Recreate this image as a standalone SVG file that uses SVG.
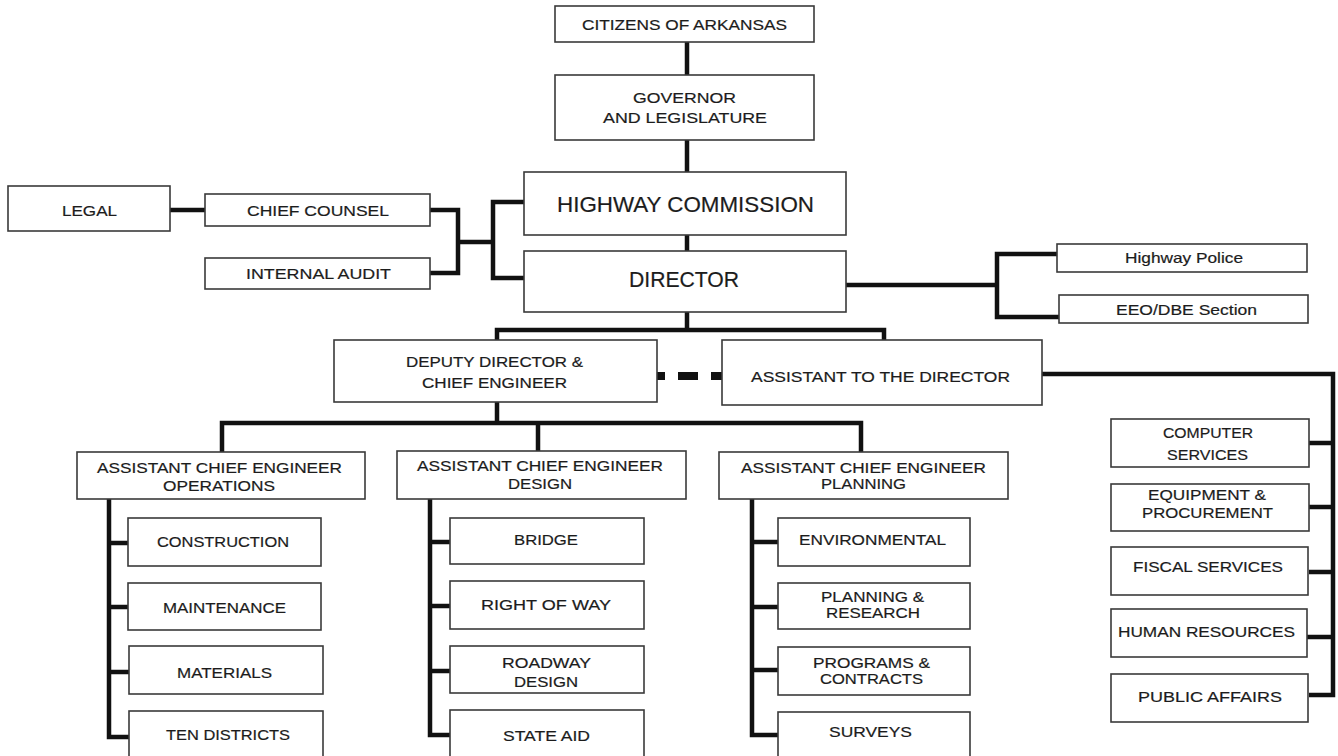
<svg xmlns="http://www.w3.org/2000/svg" width="1338" height="756" viewBox="0 0 1338 756">
<style>
.box{fill:#fff;stroke:#3a3a3a;stroke-width:1.6}
.t{font-family:"Liberation Sans",Arial,sans-serif;font-size:15.5px;fill:#1c1c1c;stroke:#1c1c1c;stroke-width:0.2;text-anchor:middle}
.big{font-size:22px}
.sm{font-size:15px}
.c{fill:none;stroke:#111;stroke-width:4.5;stroke-linejoin:miter;stroke-linecap:butt}
</style>
<rect width="1338" height="756" fill="#fff"/>
<g id="connectors">
<path class="c" d="M687 42V75M687 140V172M687 235V251"/>
<path class="c" d="M170 210H205M430 210H458V273H430M458 242H493M524 202H493V278H524"/>
<path class="c" d="M846 285H997M1057 254H997V317H1059"/>
<path class="c" d="M687 312V330M497 341V330H884V341"/>
<path class="c" d="M1042 374H1333V695H1309M1309 443H1333M1309 507H1333M1309 572H1333M1307 637H1333"/>
<path class="c" d="M497 402V423M222 452V423H861V452M538 423V451"/>
<path class="c" d="M109 499V737H130M109 543H128M109 607H128M109 672H130"/>
<path class="c" d="M430 499V735H450M430 542H450M430 606H450M430 671H450"/>
<path class="c" d="M752 499V735H778M752 542H778M752 607H778M752 670H778"/>
<path d="M657 376H665M678 376H698M711 376H722" fill="none" stroke="#111" stroke-width="8"/>
</g>
<g id="citizens"><rect class="box" x="555" y="6" width="259" height="36"/><text class="t" x="684.5" y="30" textLength="205" lengthAdjust="spacingAndGlyphs">CITIZENS OF ARKANSAS</text></g>
<g id="governor"><rect class="box" x="555" y="75" width="259" height="65"/><text class="t" x="684.5" y="103" textLength="103" lengthAdjust="spacingAndGlyphs">GOVERNOR</text><text class="t" x="685" y="123" textLength="164" lengthAdjust="spacingAndGlyphs">AND LEGISLATURE</text></g>
<g id="commission"><rect class="box" x="524" y="172" width="322" height="63"/><text class="t big" x="685.5" y="212" textLength="257" lengthAdjust="spacingAndGlyphs">HIGHWAY COMMISSION</text></g>
<g id="director"><rect class="box" x="524" y="251" width="322" height="61"/><text class="t big" x="684" y="287" textLength="110" lengthAdjust="spacingAndGlyphs">DIRECTOR</text></g>
<g id="legal"><rect class="box" x="8" y="186" width="162" height="45"/><text class="t" x="89.5" y="216" textLength="55" lengthAdjust="spacingAndGlyphs">LEGAL</text></g>
<g id="chief-counsel"><rect class="box" x="205" y="194" width="225" height="32"/><text class="t" x="318" y="216" textLength="142" lengthAdjust="spacingAndGlyphs">CHIEF COUNSEL</text></g>
<g id="internal-audit"><rect class="box" x="205" y="258" width="225" height="31"/><text class="t" x="318.5" y="279" textLength="145" lengthAdjust="spacingAndGlyphs">INTERNAL AUDIT</text></g>
<g id="highway-police"><rect class="box" x="1057" y="244" width="250" height="28"/><text class="t sm" x="1184" y="263" textLength="118" lengthAdjust="spacingAndGlyphs">Highway Police</text></g>
<g id="eeo"><rect class="box" x="1059" y="295" width="249" height="28"/><text class="t sm" x="1186.5" y="315" textLength="141" lengthAdjust="spacingAndGlyphs">EEO/DBE Section</text></g>
<g id="deputy"><rect class="box" x="334" y="340" width="323" height="62"/><text class="t" x="494.5" y="367" textLength="177" lengthAdjust="spacingAndGlyphs">DEPUTY DIRECTOR &amp;</text><text class="t" x="494.5" y="388" textLength="145" lengthAdjust="spacingAndGlyphs">CHIEF ENGINEER</text></g>
<g id="assistant-director"><rect class="box" x="722" y="340" width="320" height="65"/><text class="t" x="880.5" y="382" textLength="259" lengthAdjust="spacingAndGlyphs">ASSISTANT TO THE DIRECTOR</text></g>
<g id="ace-operations"><rect class="box" x="77" y="452" width="288" height="47"/><text class="t" x="219.5" y="473" textLength="245" lengthAdjust="spacingAndGlyphs">ASSISTANT CHIEF ENGINEER</text><text class="t" x="219" y="491" textLength="112" lengthAdjust="spacingAndGlyphs">OPERATIONS</text></g>
<g id="ace-design"><rect class="box" x="397" y="451" width="289" height="48"/><text class="t" x="540" y="471" textLength="246" lengthAdjust="spacingAndGlyphs">ASSISTANT CHIEF ENGINEER</text><text class="t" x="540" y="489" textLength="64" lengthAdjust="spacingAndGlyphs">DESIGN</text></g>
<g id="ace-planning"><rect class="box" x="719" y="452" width="289" height="47"/><text class="t" x="863.5" y="473" textLength="245" lengthAdjust="spacingAndGlyphs">ASSISTANT CHIEF ENGINEER</text><text class="t" x="863.5" y="489" textLength="85" lengthAdjust="spacingAndGlyphs">PLANNING</text></g>
<g id="construction"><rect class="box" x="128" y="518" width="193" height="48"/><text class="t" x="223" y="547" textLength="132" lengthAdjust="spacingAndGlyphs">CONSTRUCTION</text></g>
<g id="maintenance"><rect class="box" x="128" y="583" width="193" height="47"/><text class="t" x="224.5" y="613" textLength="123" lengthAdjust="spacingAndGlyphs">MAINTENANCE</text></g>
<g id="materials"><rect class="box" x="129" y="646" width="194" height="48"/><text class="t" x="224.5" y="678" textLength="95" lengthAdjust="spacingAndGlyphs">MATERIALS</text></g>
<g id="ten-districts"><rect class="box" x="129" y="711" width="194" height="60"/><text class="t" x="228" y="740" textLength="124" lengthAdjust="spacingAndGlyphs">TEN DISTRICTS</text></g>
<g id="bridge"><rect class="box" x="450" y="518" width="194" height="46"/><text class="t" x="546" y="545" textLength="64" lengthAdjust="spacingAndGlyphs">BRIDGE</text></g>
<g id="right-of-way"><rect class="box" x="450" y="581" width="194" height="48"/><text class="t" x="546" y="610" textLength="130" lengthAdjust="spacingAndGlyphs">RIGHT OF WAY</text></g>
<g id="roadway-design"><rect class="box" x="450" y="646" width="194" height="47"/><text class="t" x="546.5" y="668" textLength="89" lengthAdjust="spacingAndGlyphs">ROADWAY</text><text class="t" x="546" y="687" textLength="64" lengthAdjust="spacingAndGlyphs">DESIGN</text></g>
<g id="state-aid"><rect class="box" x="450" y="710" width="194" height="60"/><text class="t" x="546.5" y="741" textLength="87" lengthAdjust="spacingAndGlyphs">STATE AID</text></g>
<g id="environmental"><rect class="box" x="778" y="518" width="192" height="48"/><text class="t" x="872.5" y="545" textLength="147" lengthAdjust="spacingAndGlyphs">ENVIRONMENTAL</text></g>
<g id="planning-research"><rect class="box" x="778" y="583" width="192" height="46"/><text class="t" x="872.5" y="602" textLength="103" lengthAdjust="spacingAndGlyphs">PLANNING &amp;</text><text class="t" x="873" y="618" textLength="94" lengthAdjust="spacingAndGlyphs">RESEARCH</text></g>
<g id="programs-contracts"><rect class="box" x="778" y="647" width="192" height="48"/><text class="t" x="871.5" y="668" textLength="117" lengthAdjust="spacingAndGlyphs">PROGRAMS &amp;</text><text class="t" x="871.5" y="684" textLength="103" lengthAdjust="spacingAndGlyphs">CONTRACTS</text></g>
<g id="surveys"><rect class="box" x="778" y="712" width="192" height="60"/><text class="t" x="870.5" y="737" textLength="83" lengthAdjust="spacingAndGlyphs">SURVEYS</text></g>
<g id="computer-services"><rect class="box" x="1111" y="419" width="198" height="48"/><text class="t" x="1208" y="438" textLength="90" lengthAdjust="spacingAndGlyphs">COMPUTER</text><text class="t" x="1207.5" y="460" textLength="81" lengthAdjust="spacingAndGlyphs">SERVICES</text></g>
<g id="equipment-procurement"><rect class="box" x="1111" y="484" width="198" height="47"/><text class="t" x="1207" y="500" textLength="118" lengthAdjust="spacingAndGlyphs">EQUIPMENT &amp;</text><text class="t" x="1207.5" y="518" textLength="131" lengthAdjust="spacingAndGlyphs">PROCUREMENT</text></g>
<g id="fiscal-services"><rect class="box" x="1111" y="547" width="197" height="48"/><text class="t" x="1208" y="572" textLength="150" lengthAdjust="spacingAndGlyphs">FISCAL SERVICES</text></g>
<g id="human-resources"><rect class="box" x="1111" y="609" width="196" height="48"/><text class="t" x="1206.5" y="637" textLength="177" lengthAdjust="spacingAndGlyphs">HUMAN RESOURCES</text></g>
<g id="public-affairs"><rect class="box" x="1111" y="674" width="197" height="48"/><text class="t" x="1210" y="702" textLength="144" lengthAdjust="spacingAndGlyphs">PUBLIC AFFAIRS</text></g>
</svg>
